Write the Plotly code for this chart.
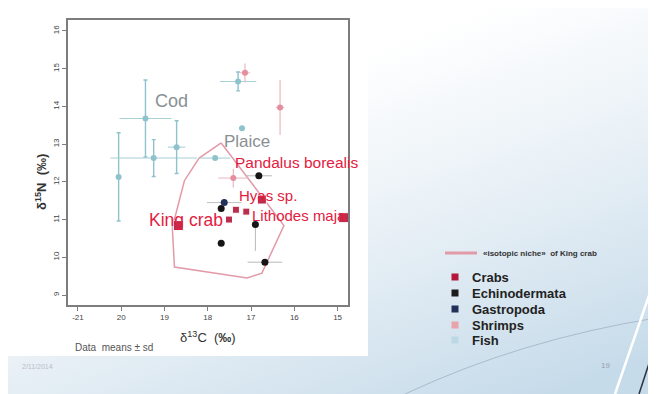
import base64
import plotly.graph_objects as go

# ---------------- data ----------------
fish_x = [-20.06, -19.44, -19.25, -18.72, -17.83, -17.30, -17.21]
fish_y = [12.13, 13.68, 12.63, 12.92, 12.63, 14.66, 13.42]
fish_sdx = [0.0, 0.60, 1.00, 0.20, 0.35, 0.42, 0.0]
fish_sdy = [1.17, 1.02, 0.49, 0.70, 0.0, 0.25, 0.0]

shrimp_x = [-17.14, -16.33, -17.41]
shrimp_y = [14.89, 13.97, 12.10]
shrimp_sdx = [0.12, 0.10, 0.35]
shrimp_sdy = [0.25, 0.73, 0.25]

crab_x = [-18.68, -17.51, -17.35, -17.11, -16.75, -14.86]
crab_y = [10.84, 11.00, 11.26, 11.21, 11.53, 11.05]
crab_size = [10, 7, 7, 7, 9, 10]

echino_x = [-16.82, -17.69, -16.90, -17.69, -16.68]
echino_y = [12.16, 11.29, 10.87, 10.37, 9.87]
echino_sdx = [0.30, 0.0, 0.0, 0.0, 0.40]
echino_sdy_up = [0.0, 0.0, 0.05, 0.0, 0.0]
echino_sdy_down = [0.0, 0.0, 0.70, 0.0, 0.0]

gastro_x = [-17.62]
gastro_y = [11.45]
gastro_sdx = [0.40]

niche_x = [-17.69, -16.24, -16.75, -17.09, -18.77, -18.82, -18.54, -18.20, -17.69]
niche_y = [13.03, 10.84, 9.58, 9.45, 9.74, 10.79, 12.03, 12.63, 13.03]

x_ticks = [-21, -20, -19, -18, -17, -16, -15]
x_ticktext = ["-21", "20", "19", "18", "17", "16", "15"]
y_ticks = [9, 10, 11, 12, 13, 14, 15, 16]
y_ticktext = ["9", "10", "11", "12", "13", "14", "15", "16"]

legend_names = ["Crabs", "Echinodermata", "Gastropoda", "Shrimps", "Fish"]
legend_colors = ["#b3173a", "#1c1c1c", "#22305a", "#e8a3ad", "#bcd8e2"]

label_text = ["Cod", "Plaice", "Pandalus borealis", "Hyas sp.", "Lithodes maja", "King crab"]
label_x = [-19.27, -17.67, -17.42, -17.33, -17.03, -19.41]
label_y = [14.15, 13.06, 12.50, 11.65, 11.12, 10.99]
label_color = ["#8a8f93", "#8a8f93", "#e3203f", "#e3203f", "#e3203f", "#e3203f"]
label_size = [18, 17, 15.5, 15, 15, 17.5]

# ---------------- geometry helpers ----------------
# the page body has an 8px margin, so the figure is drawn 8px right/down
OFF = 8
W, H = 656, 394
L, R, T, B = 68, 348, 20, 305   # plot frame in screenshot pixels


def PX(px):
    return (px - L) / (R - L)


def PY(py):
    return (B - py) / (B - T)


FISH = "#8ec3cc"
SHRIMP = "#e58f9e"
CRAB = "#b3173a"
ECHINO = "#161616"
GASTRO = "#22305a"
NICHE = "#e39aa8"

fig = go.Figure()

fig.add_trace(go.Scatter(
    x=niche_x, y=niche_y, mode="lines",
    line=dict(color=NICHE, width=1.5), showlegend=False, hoverinfo="skip"))

fig.add_trace(go.Scatter(
    x=fish_x, y=fish_y, mode="markers", showlegend=False,
    marker=dict(color=FISH, size=6),
    error_x=dict(type="data", array=fish_sdx, color="#a8d0d7", thickness=1.1, width=0),
    error_y=dict(type="data", array=fish_sdy, color=FISH, thickness=1.4, width=2)))

fig.add_trace(go.Scatter(
    x=shrimp_x, y=shrimp_y, mode="markers", showlegend=False,
    marker=dict(color=SHRIMP, size=6),
    error_x=dict(type="data", array=shrimp_sdx, color="#e9b7bf", thickness=1, width=0),
    error_y=dict(type="data", array=shrimp_sdy, color="#e9b7bf", thickness=1.2, width=0)))

fig.add_trace(go.Scatter(
    x=echino_x, y=echino_y, mode="markers", showlegend=False,
    marker=dict(color=ECHINO, size=7),
    error_x=dict(type="data", array=echino_sdx, color="#b8b8b8", thickness=1, width=0),
    error_y=dict(type="data", array=echino_sdy_up, arrayminus=echino_sdy_down,
                 symmetric=False, color="#b8b8b8", thickness=1, width=0)))

fig.add_trace(go.Scatter(
    x=gastro_x, y=gastro_y, mode="markers", showlegend=False,
    marker=dict(color=GASTRO, size=7),
    error_x=dict(type="data", array=gastro_sdx, color="#c0c0c0", thickness=1, width=0)))

fig.add_trace(go.Scatter(
    x=crab_x, y=crab_y, mode="markers", showlegend=False,
    marker=dict(color=CRAB, size=crab_size, symbol="square", opacity=0.9)))

# species labels
for t, x, y, c, s in zip(label_text, label_x, label_y, label_color, label_size):
    fig.add_annotation(x=x, y=y, text=t, showarrow=False, xref="x", yref="y",
                       xanchor="left", yanchor="middle",
                       font=dict(family="Liberation Sans", size=s, color=c))

# ---------------- background (slide) ----------------
svg = ("<svg xmlns='http://www.w3.org/2000/svg' width='664' height='402'>"
       "<defs><linearGradient id='g' x1='0.2' y1='0' x2='0.8' y2='1'>"
       "<stop offset='0.25' stop-color='#ffffff'/>"
       "<stop offset='0.6' stop-color='#e8f0f6'/>"
       "<stop offset='1' stop-color='#c6dbea'/></linearGradient></defs>"
       "<rect width='664' height='402' fill='url(#g)'/></svg>")
src = "data:image/svg+xml;base64," + base64.b64encode(svg.encode()).decode()
fig.add_layout_image(dict(source=src, xref="paper", yref="paper",
                          x=PX(0), y=PY(0), sizex=(W + OFF) / (R - L), sizey=(H + OFF) / (B - T),
                          xanchor="left", yanchor="top", sizing="stretch", layer="below"))

shapes = []
# white chart picture
shapes.append(dict(type="rect", xref="paper", yref="paper", layer="below",
                   x0=PX(0), x1=PX(368), y0=PY(356), y1=PY(0),
                   fillcolor="#ffffff", line=dict(width=0)))
# decorative slide lines
shapes.append(dict(type="path", xref="paper", yref="paper", layer="below",
                   path=f"M {PX(405)} {PY(394)} Q {PX(520)} {PY(340)} {PX(656)} {PY(318)}",
                   line=dict(color="#a9bccb", width=1)))
shapes.append(dict(type="line", xref="paper", yref="paper", layer="below",
                   x0=PX(655), y0=PY(278), x1=PX(615), y1=PY(394),
                   line=dict(color="#ffffff", width=2.5)))
shapes.append(dict(type="line", xref="paper", yref="paper", layer="below",
                   x0=PX(656), y0=PY(342), x1=PX(639), y1=PY(394),
                   line=dict(color="#2b3440", width=1.5)))

# legend (drawn manually)
shapes.append(dict(type="line", xref="paper", yref="paper",
                   x0=PX(445), x1=PX(477), y0=PY(253), y1=PY(253),
                   line=dict(color=NICHE, width=3)))
leg_y = [277, 293, 309, 325, 340]
for name, col, yy in zip(legend_names, legend_colors, leg_y):
    shapes.append(dict(type="rect", xref="paper", yref="paper",
                       x0=PX(451.5), x1=PX(458.5), y0=PY(yy + 3.5), y1=PY(yy - 3.5),
                       fillcolor=col, line=dict(width=0)))
    fig.add_annotation(x=PX(470), y=PY(yy), xref="paper", yref="paper",
                       xanchor="left", yanchor="middle", showarrow=False, text=f"<b>{name}</b>",
                       font=dict(family="Liberation Sans", size=13, color="#222222"))
fig.add_annotation(x=PX(481), y=PY(253), xref="paper", yref="paper",
                   xanchor="left", yanchor="middle", showarrow=False,
                   text="<b>«isotopic niche»  of King crab</b>",
                   font=dict(family="Liberation Sans", size=8, color="#333333"))

# axis titles & notes
fig.add_annotation(x=PX(208), y=PY(337), xref="paper", yref="paper", showarrow=False,
                   yanchor="middle",
                   text="δ<sup>13</sup>C  (<b>‰</b>)",
                   font=dict(family="Liberation Sans", size=13, color="#333333"))
fig.add_annotation(x=PX(31), y=PY(182), xref="paper", yref="paper", showarrow=False,
                   textangle=-90, text="<b>δ<sup>15</sup>N  (‰)</b>",
                   font=dict(family="Liberation Sans", size=13, color="#333333"))
fig.add_annotation(x=PX(73), y=PY(347), xref="paper", yref="paper", showarrow=False,
                   xanchor="left", yanchor="middle", text="Data  means ± sd",
                   font=dict(family="Liberation Sans", size=10, color="#555555"))
fig.add_annotation(x=PX(20), y=PY(372), xref="paper", yref="paper", showarrow=False,
                   xanchor="left", text="2/11/2014",
                   font=dict(family="Liberation Sans", size=7, color="#b8bec4"))
fig.add_annotation(x=PX(612), y=PY(372), xref="paper", yref="paper", showarrow=False,
                   text="19", font=dict(family="Liberation Sans", size=8, color="#9aa2aa"))

fig.update_layout(
    width=W, height=H,
    margin=dict(l=L - OFF, r=W - (R - OFF), t=T - OFF, b=H - (B - OFF), pad=0, autoexpand=False),
    paper_bgcolor="#ffffff", plot_bgcolor="rgba(0,0,0,0)",
    showlegend=False, shapes=shapes,
    font=dict(family="Liberation Sans"),
)
fig.update_xaxes(range=[-21.23, -14.76], tickmode="array", tickvals=x_ticks, ticktext=x_ticktext,
                 automargin=False,
                 showgrid=False, zeroline=False, showline=True, mirror=True,
                 linecolor="#7d7d7d", linewidth=1.5, ticks="outside", ticklen=4,
                 tickcolor="#7d7d7d", tickfont=dict(size=8, color="#444444"))
fig.update_yaxes(range=[8.735, 16.29], tickmode="array", tickvals=y_ticks, ticktext=y_ticktext,
                 automargin=False,
                 showgrid=False, zeroline=False, showline=True, mirror=True,
                 linecolor="#7d7d7d", linewidth=1.5, ticks="outside", ticklen=4,
                 tickcolor="#7d7d7d", tickangle=-90, tickfont=dict(size=8, color="#444444"))

fig.write_html("out.html")
